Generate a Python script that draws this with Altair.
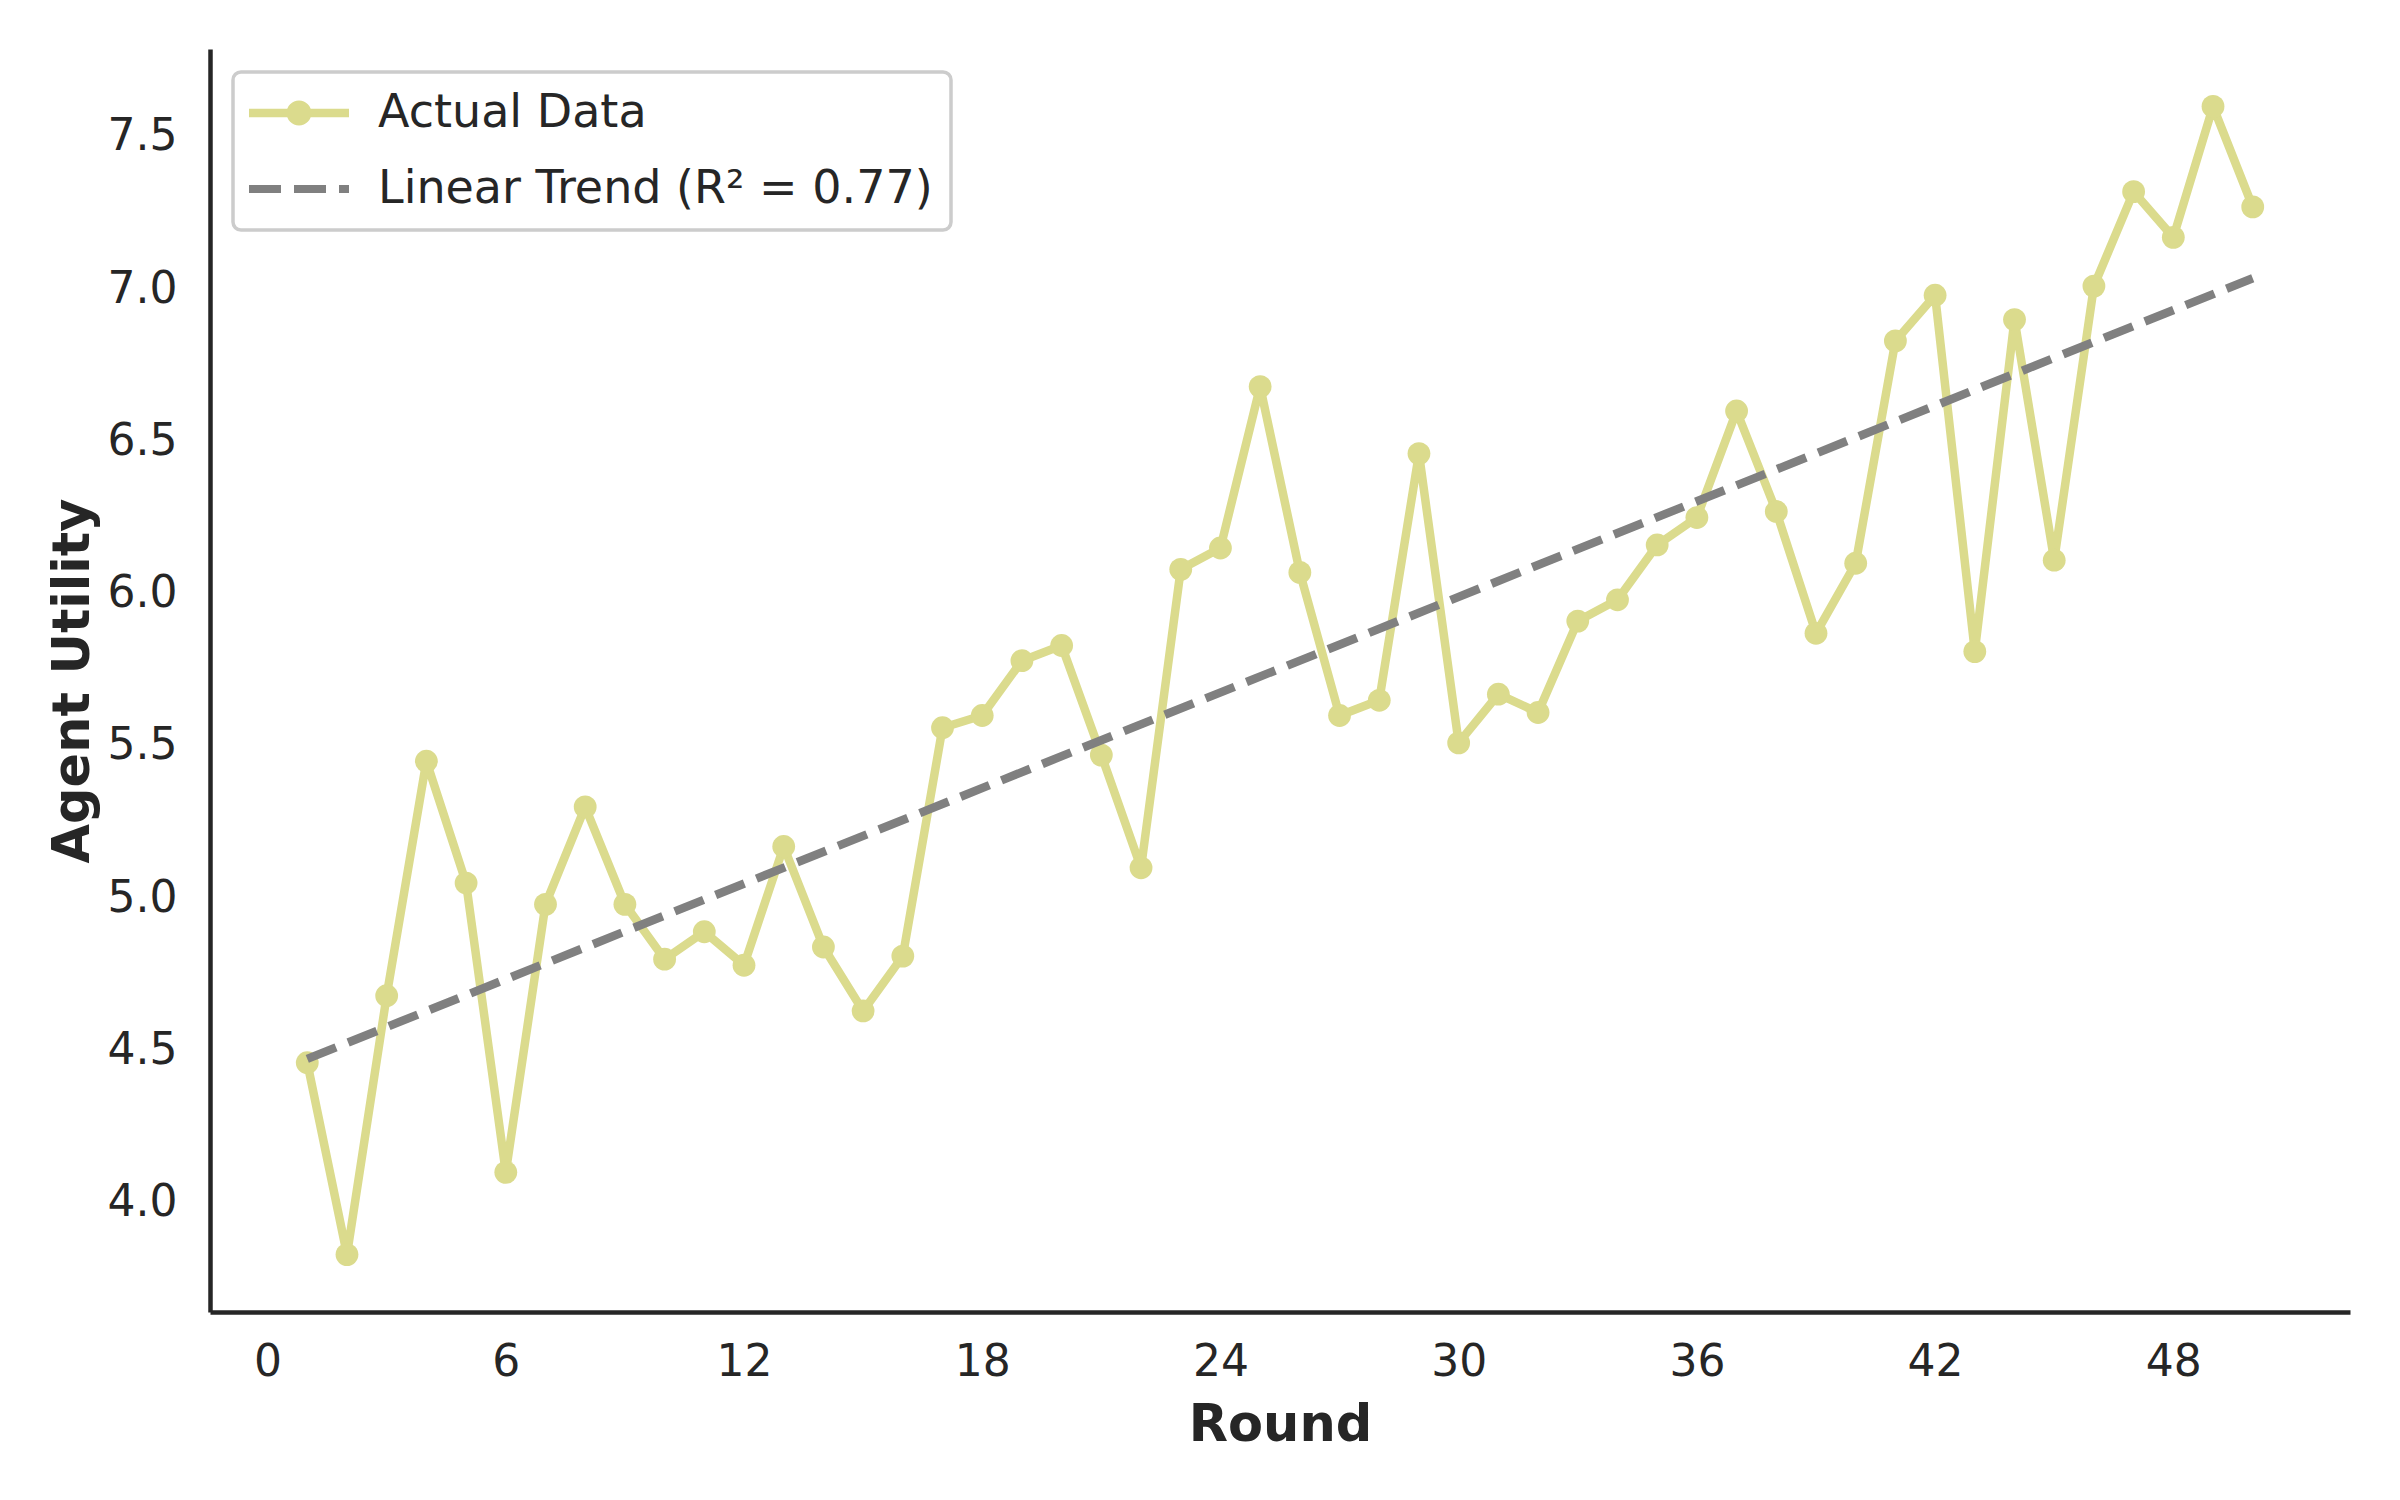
import altair as alt
import pandas as pd

# ---- data ----
rounds = list(range(1, 51))
utility = [4.46, 3.83, 4.68, 5.45, 5.05, 4.10, 4.98, 5.30, 4.98, 4.80,
           4.89, 4.78, 5.17, 4.84, 4.63, 4.81, 5.56, 5.60, 5.78, 5.83,
           5.47, 5.10, 6.08, 6.15, 6.68, 6.07, 5.60, 5.65, 6.46, 5.51,
           5.67, 5.61, 5.91, 5.98, 6.16, 6.25, 6.60, 6.27, 5.87, 6.10,
           6.83, 6.98, 5.81, 6.90, 6.11, 7.01, 7.32, 7.17, 7.60, 7.27]
series_names = ["Actual Data", "Linear Trend (R² = 0.77)"]
series_colors = ["#dbdb8d", "#808080"]
x_ticks = [0, 6, 12, 18, 24, 30, 36, 42, 48]
y_ticks = [4.0, 4.5, 5.0, 5.5, 6.0, 6.5, 7.0, 7.5]

df = pd.DataFrame({"round": rounds, "utility": utility})
legend_df = pd.DataFrame({"series": series_names})

# matplotlib-like 5% margins
xpad = 0.05 * (max(rounds) - min(rounds))
ypad = 0.05 * (max(utility) - min(utility))
x_dom = [min(rounds) - xpad, max(rounds) + xpad]
y_dom = [min(utility) - ypad, max(utility) + ypad]

TEXT = "#262626"
FONT = "DejaVu Sans"
LW = 8.5
DASH = [31, 13]

# ---- legend symbols as custom paths (unit = sqrt(symbolSize)/2 px) ----
SYM_SIZE = 2116
unit = (SYM_SIZE ** 0.5) / 2.0


def rect(x0, x1, h):
    a, b, c = x0 / unit, x1 / unit, h / unit
    return f"M{a:.3f},{-c:.3f}L{b:.3f},{-c:.3f}L{b:.3f},{c:.3f}L{a:.3f},{c:.3f}Z"


r = 12.5 / unit
circle = (f"M{r:.3f},0A{r:.3f},{r:.3f} 0 1 1 {-r:.3f},0"
          f"A{r:.3f},{r:.3f} 0 1 1 {r:.3f},0Z")
path_actual = rect(-50, 50, 4.2) + circle
path_trend = rect(-50, -18, 3.9) + rect(-5, 27, 3.9) + rect(40, 50, 3.9)

x_enc = alt.X("round:Q", title="Round",
              scale=alt.Scale(domain=x_dom, nice=False, zero=False),
              axis=alt.Axis(values=x_ticks, format="d", labelFlush=False,
                            labelPadding=28, titlePadding=16))
y_enc = alt.Y("utility:Q", title="Agent Utility",
              scale=alt.Scale(domain=y_dom, nice=False, zero=False),
              axis=alt.Axis(values=y_ticks, format=".1f", labelPadding=33,
                            titlePadding=8))

base = alt.Chart(df)

line = base.mark_line(color=series_colors[0], strokeWidth=LW,
                      strokeCap="round", strokeJoin="round").encode(x=x_enc, y=y_enc)
points = base.mark_circle(color=series_colors[0], size=520, opacity=1).encode(
    x=x_enc, y=y_enc)
trend = base.transform_regression("round", "utility").mark_line(
    color=series_colors[1], strokeWidth=LW, strokeDash=DASH).encode(x=x_enc, y=y_enc)

legend_layer = alt.Chart(legend_df).mark_point(
    filled=True, opacity=0, size=SYM_SIZE).encode(
    shape=alt.Shape("series:N",
                    scale=alt.Scale(domain=series_names,
                                    range=[path_actual, path_trend]),
                    legend=alt.Legend(title=None)),
    color=alt.Color("series:N",
                    scale=alt.Scale(domain=series_names, range=series_colors),
                    legend=alt.Legend(title=None)),
)

chart = alt.layer(line, points, trend, legend_layer).properties(
    width=2140, height=1263, autosize="none",
    padding={"left": 202, "top": 41, "right": 40, "bottom": 170},
    background="white",
).configure_view(stroke=None).configure_axis(
    grid=False, ticks=False, domainColor=TEXT, domainWidth=4.5,
    labelFont=FONT, labelFontSize=44, labelColor=TEXT,
    titleFont=FONT, titleFontSize=51, titleFontWeight="bold", titleColor=TEXT,
).configure_legend(
    orient="none", legendX=23, legendY=23, padding=18, rowPadding=30,
    strokeColor="#cccccc", strokeWidth=3.5, cornerRadius=8, fillColor="white",
    symbolSize=SYM_SIZE, symbolStrokeWidth=0, symbolOffset=25, symbolOpacity=1,
    labelOffset=56, labelFont=FONT, labelFontSize=46, labelColor=TEXT,
    labelLimit=2000,
)

chart.save("out.html", embed_options={"renderer": "svg", "actions": False})
